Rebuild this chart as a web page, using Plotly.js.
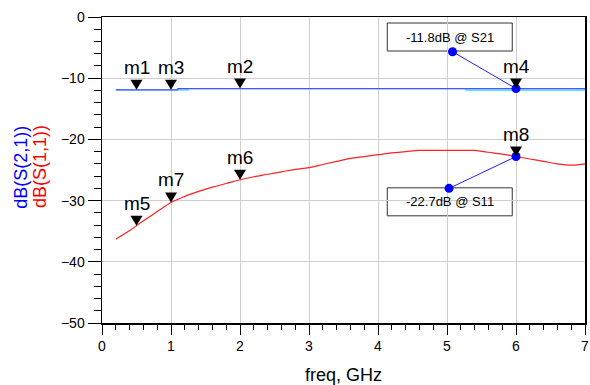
<!DOCTYPE html>
<html>
<head>
<meta charset="utf-8">
<script src="https://cdn.plot.ly/plotly-3.0.1.min.js"></script>
<style>html,body{margin:0;padding:0;background:#fff;}#chart{width:590px;height:385px;}</style>
</head>
<body>
<div id="chart"></div>
<script>
// ---- data ----
var freqS11 = [0.2,0.4,0.6,0.8,1.0,1.2,1.4,1.6,1.8,2.0,2.2,2.4,2.6,2.8,3.0,3.2,3.4,3.6,3.8,4.0,4.2,4.4,4.6,4.8,5.0,5.2,5.4,5.6,5.8,6.0,6.2,6.4,6.6,6.8,7.0];
var s11dB   = [-36.3,-34.9,-33.3,-31.8,-30.3,-29.3,-28.5,-27.8,-27.2,-26.6,-26.1,-25.7,-25.3,-24.9,-24.6,-24.1,-23.6,-23.1,-22.8,-22.5,-22.2,-22.0,-21.8,-21.8,-21.8,-21.8,-21.8,-22.1,-22.4,-22.8,-23.2,-23.6,-24.0,-24.2,-24.0];
var freqS21 = [0.2, 1.1, 7.0];
var s21dB   = [-11.9, -11.7, -11.7];
var freqS21b = [0.2, 1.25, 5.28, 7.0];
var s21bdB   = [-11.9, -11.7, -11.95, -11.95];

var s21MarkerNames = ['m1','m3','m2','m4'];
var s21MarkerFreq  = [0.5, 1.0, 2.0, 6.0];
var s21MarkerVal   = [-11.9, -11.9, -11.7, -11.7];
var s11MarkerNames = ['m5','m7','m6','m8'];
var s11MarkerFreq  = [0.5, 1.0, 2.0, 6.0];
var s11MarkerVal   = [-34.1, -30.3, -26.6, -22.8];

var readoutTexts = ['-11.8dB @ S21', '-22.7dB @ S11'];
var readoutFreq  = [5.04, 5.04];
var readoutVal   = [-3.27, -30.2];
var readoutDotFreq = [5.08, 5.03];
var readoutDotVal  = [-5.67, -28.0];
var readoutMarkerFreq = [6.0, 6.0];
var readoutMarkerVal  = [-11.7, -22.8];

var xTickVals = [0,1,2,3,4,5,6,7];
var yTickVals = [0,-10,-20,-30,-40,-50];

// ---- build chart ----
var FONT = 'Liberation Sans, Arial, sans-serif';
var traces = [
  {x: freqS21b, y: s21bdB, mode:'lines', line:{color:'#22e0f0', width:1.2, shape:'hv'}, hoverinfo:'skip'},
  {x: freqS21, y: s21dB, mode:'lines', line:{color:'#5050ff', width:1.2, shape:'hv'}, hoverinfo:'skip'},
  {x: freqS11, y: s11dB, mode:'lines', line:{color:'#ff2020', width:1.2, shape:'spline'}, hoverinfo:'skip'}
];
for (var i = 0; i < readoutTexts.length; i++) {
  traces.push({x:[readoutDotFreq[i], readoutMarkerFreq[i]], y:[readoutDotVal[i], readoutMarkerVal[i]],
    mode:'lines+markers', line:{color:'#2020ff', width:1}, marker:{color:'#0000ff', size:9}, hoverinfo:'skip'});
}

var shapes = [];
var annotations = [];
function addMarker(name, fx, val) {
  shapes.push({type:'path', xref:'x', yref:'y', xsizemode:'pixel', ysizemode:'pixel',
    xanchor: fx, yanchor: val, path:'M-6,10 L6,10 L0,0 Z', fillcolor:'#000', line:{width:0}});
  annotations.push({x: fx, y: val, xref:'x', yref:'y', text: name, showarrow:false,
    xanchor:'center', yanchor:'bottom', yshift: 10, font:{family:FONT, size:19, color:'#000'}});
}
for (var j = 0; j < s21MarkerNames.length; j++) addMarker(s21MarkerNames[j], s21MarkerFreq[j], s21MarkerVal[j]);
for (var k = 0; k < s11MarkerNames.length; k++) addMarker(s11MarkerNames[k], s11MarkerFreq[k], s11MarkerVal[k]);

for (var r = 0; r < readoutTexts.length; r++) {
  shapes.push({type:'rect', layer:'below', xref:'x', yref:'y', xsizemode:'pixel', ysizemode:'pixel',
    xanchor: readoutFreq[r], yanchor: readoutVal[r], x0:-62.5, x1:62.5, y0:-14, y1:14,
    line:{color:'#333', width:1}, fillcolor:'rgba(0,0,0,0)'});
  annotations.push({x: readoutFreq[r], y: readoutVal[r], xref:'x', yref:'y', text: readoutTexts[r],
    showarrow:false, xanchor:'center', yanchor:'middle', font:{family:FONT, size:13, color:'#000'}});
}
annotations.push({xref:'paper', yref:'paper', x:-0.168, y:0.51, text:'dB(S(2,1))', textangle:-90,
  showarrow:false, xanchor:'center', yanchor:'middle', font:{family:FONT, size:18, color:'#0000ff'}});
annotations.push({xref:'paper', yref:'paper', x:-0.128, y:0.51, text:'dB(S(1,1))', textangle:-90,
  showarrow:false, xanchor:'center', yanchor:'middle', font:{family:FONT, size:18, color:'#ff0000'}});

var layout = {
  width:590, height:385,
  margin:{l:102, r:5, t:17, b:62},
  paper_bgcolor:'#fff', plot_bgcolor:'#fff',
  showlegend:false,
  font:{family:FONT, size:14, color:'#000'},
  xaxis:{range:[0,7], tickvals:xTickVals, ticks:'outside', ticklen:10, tickcolor:'#000', tickwidth:1,
    showline:true, linecolor:'#000', linewidth:1.5, mirror:true,
    showgrid:true, gridcolor:'#cfcfcf', gridwidth:1, zeroline:false,
    minor:{dtick:0.2, ticks:'outside', ticklen:5, tickcolor:'#000', showgrid:false},
    tickfont:{family:FONT, size:14, color:'#000'},
    title:{text:'freq, GHz', font:{family:FONT, size:18, color:'#000'}, standoff:25}},
  yaxis:{range:[-50,0], tickvals:yTickVals, ticks:'outside', ticklen:13, tickcolor:'#000', tickwidth:1,
    showline:true, linecolor:'#000', linewidth:1.5, mirror:true,
    showgrid:true, gridcolor:'#cfcfcf', gridwidth:1, zeroline:false,
    minor:{dtick:2, ticks:'outside', ticklen:7, tickcolor:'#000', showgrid:false},
    tickfont:{family:FONT, size:14, color:'#000'}},
  shapes: shapes,
  annotations: annotations
};
Plotly.newPlot('chart', traces, layout, {staticPlot:true, displayModeBar:false});
</script>
</body>
</html>
